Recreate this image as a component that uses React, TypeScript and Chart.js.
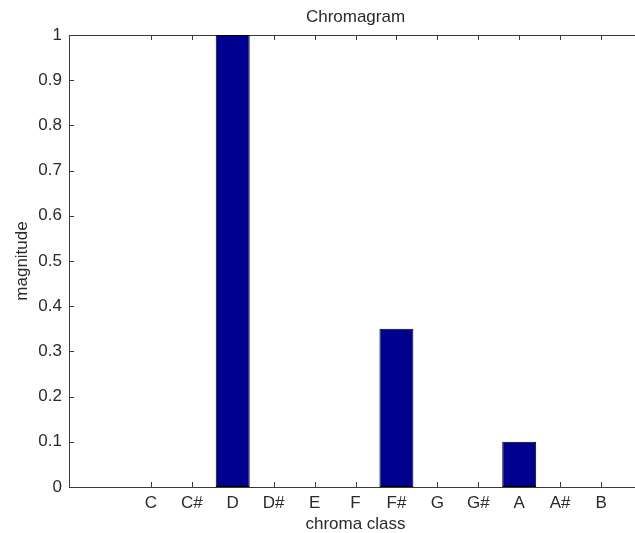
import React, { useEffect, useRef } from "react";
import { Chart, registerables } from "chart.js";

Chart.register(...registerables);

const chromaClasses = ["C", "C#", "D", "D#", "E", "F", "F#", "G", "G#", "A", "A#", "B"];
const magnitudes = [0, 0, 1, 0, 0, 0, 0.35, 0, 0, 0.1, 0, 0];
const xRange = [-1, 13];
const yRange = [0, 1];
const yStep = 0.1;

const FONT = "'Liberation Sans', Arial, Helvetica, sans-serif";
const AXIS_COLOR = "#3a3a3a";
const TEXT_COLOR = "#2a2a2a";
const TICK_LEN = 5;

const inwardTicks = {
  id: "inwardTicks",
  beforeDatasetsDraw(chart: any) {
    const { ctx, chartArea: a, scales } = chart;
    const x = scales.x;
    const y = scales.y;
    ctx.save();
    ctx.strokeStyle = AXIS_COLOR;
    ctx.lineWidth = 1;
    ctx.beginPath();
    ctx.moveTo(a.left, a.top + 0.5);
    ctx.lineTo(a.right, a.top + 0.5);
    x.ticks.forEach((t: any) => {
      const px = Math.round(x.getPixelForValue(t.value)) + 0.5;
      ctx.moveTo(px, a.bottom);
      ctx.lineTo(px, a.bottom - TICK_LEN);
      ctx.moveTo(px, a.top);
      ctx.lineTo(px, a.top + TICK_LEN);
    });
    y.ticks.forEach((t: any) => {
      const py = Math.round(y.getPixelForValue(t.value)) + 0.5;
      ctx.moveTo(a.left, py);
      ctx.lineTo(a.left + TICK_LEN, py);
    });
    ctx.stroke();
    ctx.restore();
  },
};

export default function App() {
  const ref = useRef<HTMLCanvasElement | null>(null);

  useEffect(() => {
    if (!ref.current) return;
    const chart = new Chart(ref.current, {
      type: "bar",
      data: {
        datasets: [
          {
            data: magnitudes.map((v, i) => ({ x: i + 1, y: v })),
            backgroundColor: "rgb(0,0,143)",
            borderColor: "#000000",
            borderWidth: 1,
            borderSkipped: false,
            barPercentage: 1,
            categoryPercentage: 0.83,
          },
        ],
      },
      options: {
        responsive: false,
        animation: false,
        devicePixelRatio: 1,
        layout: { padding: 0 },
        plugins: {
          legend: { display: false },
          tooltip: { enabled: false },
          title: {
            display: true,
            text: "Chromagram",
            fullSize: false,
            color: TEXT_COLOR,
            font: { family: FONT, size: 17, weight: "normal" },
            padding: { top: 7, bottom: 7.6 },
          },
        },
        scales: {
          x: {
            type: "linear",
            offset: false,
            min: xRange[0],
            max: xRange[1],
            afterBuildTicks: (scale: any) => {
              scale.ticks = chromaClasses.map((_, i) => ({ value: i + 1 }));
            },
            afterFit: (scale: any) => {
              scale.height = 46;
            },
            grid: { display: false, drawTicks: false, offset: false },
            border: { display: true, color: AXIS_COLOR, width: 1 },
            ticks: {
              autoSkip: false,
              maxRotation: 0,
              padding: 6,
              color: TEXT_COLOR,
              font: { family: FONT, size: 17 },
              callback: (v: any) => chromaClasses[Math.round(v) - 1] ?? "",
            },
            title: {
              display: true,
              text: "chroma class",
              color: TEXT_COLOR,
              font: { family: FONT, size: 17, lineHeight: 1.05 },
              padding: { top: 0, bottom: 0 },
            },
          },
          y: {
            type: "linear",
            min: yRange[0],
            max: yRange[1],
            afterFit: (scale: any) => {
              scale.width = 69;
            },
            grid: { display: false, drawTicks: false },
            border: { display: true, color: AXIS_COLOR, width: 1 },
            ticks: {
              stepSize: yStep,
              padding: 7,
              color: TEXT_COLOR,
              font: { family: FONT, size: 17 },
              callback: (v: any) => String(Number(Number(v).toFixed(1))),
            },
            title: {
              display: true,
              text: "magnitude",
              color: TEXT_COLOR,
              font: { family: FONT, size: 17 },
              padding: { top: 12, bottom: 0 },
            },
          },
        },
      },
      plugins: [inwardTicks],
    } as any);
    return () => chart.destroy();
  }, []);

  return (
    <div
      style={{
        position: "absolute",
        left: 0,
        top: 0,
        width: 635,
        height: 533,
        overflow: "hidden",
        background: "#ffffff",
      }}
    >
      <canvas ref={ref} width={642} height={533} style={{ display: "block" }} />
    </div>
  );
}
